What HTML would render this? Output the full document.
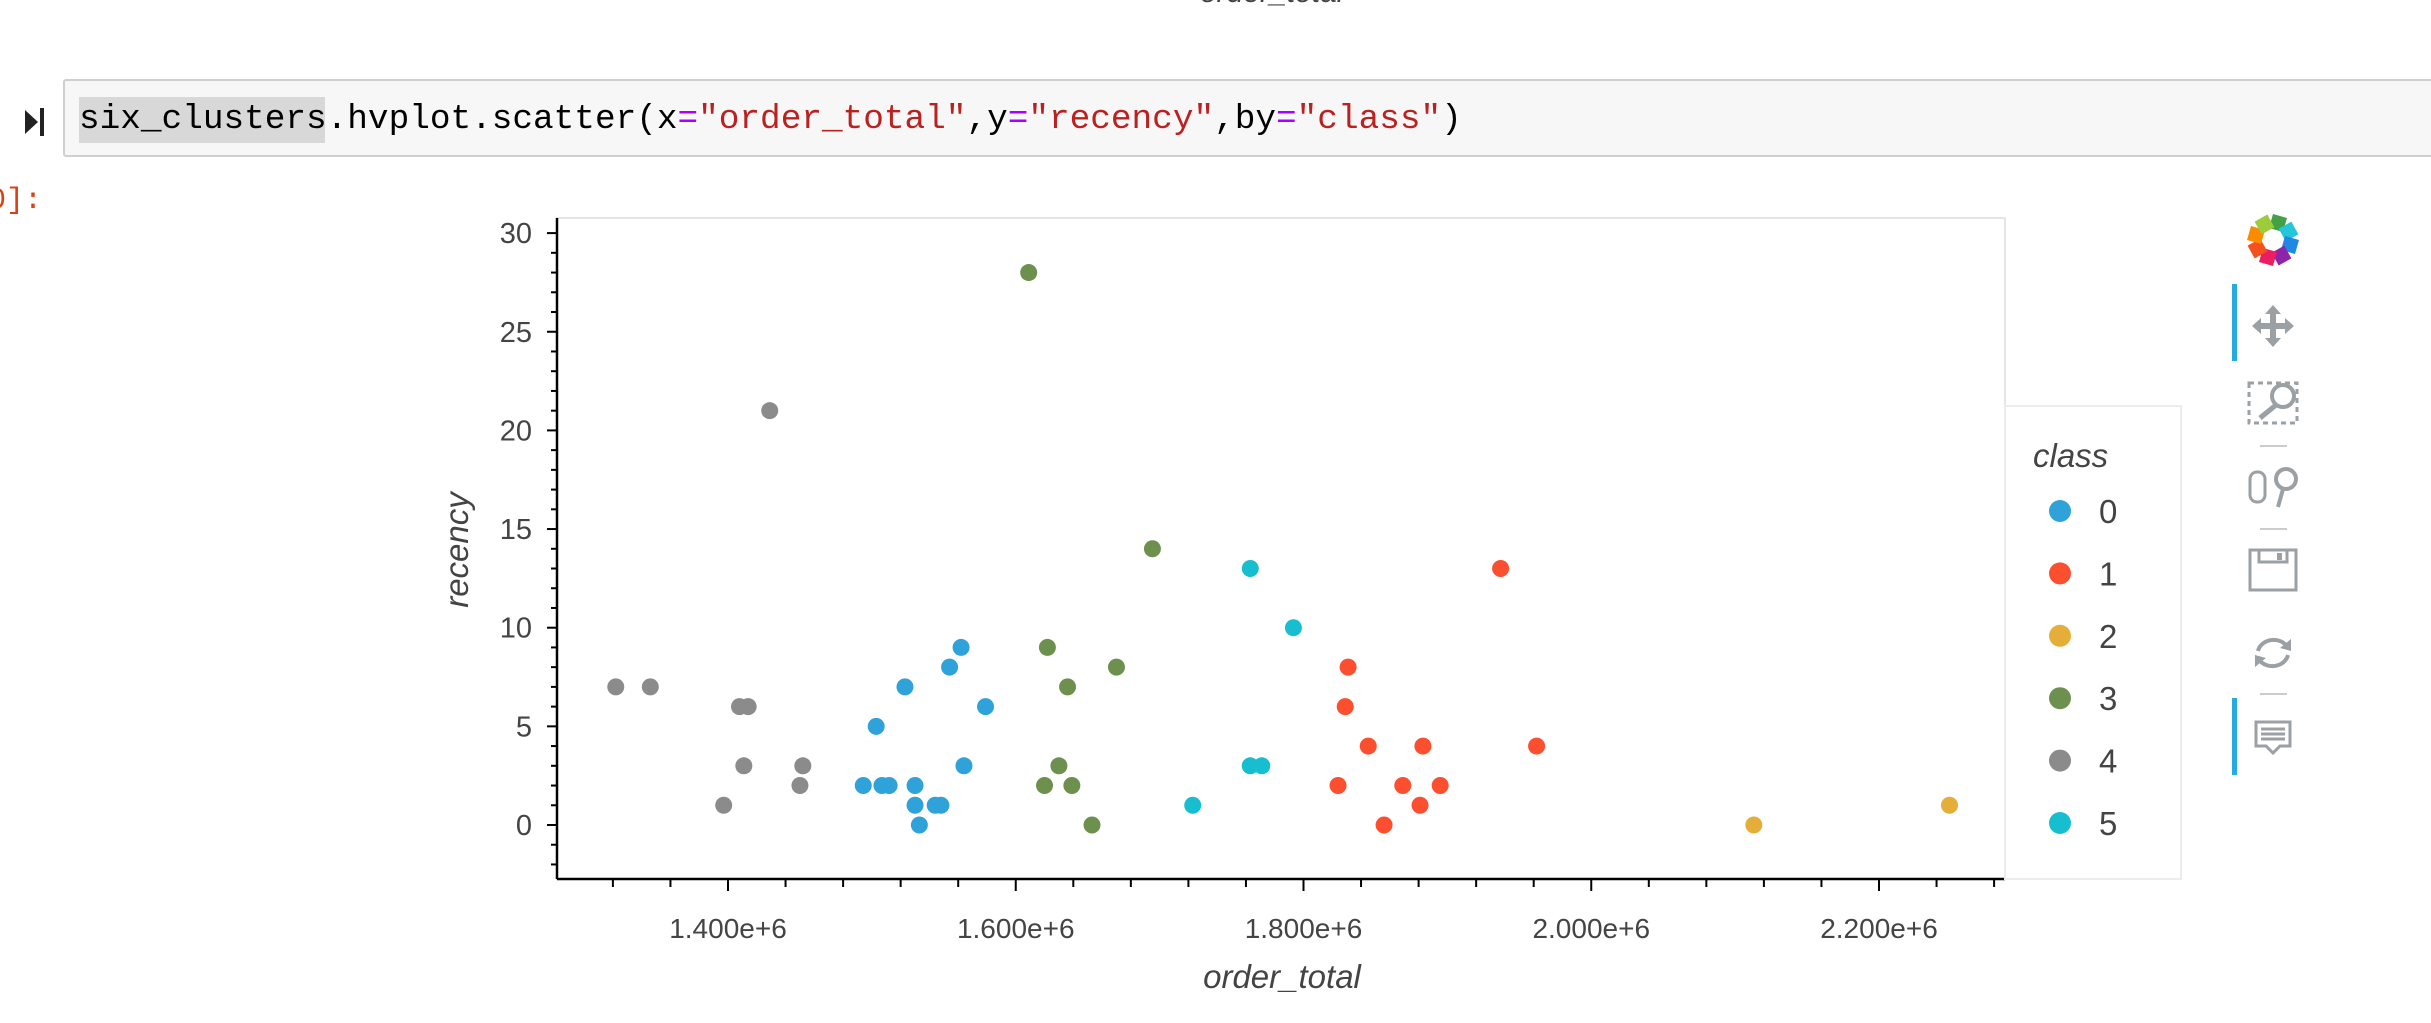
<!DOCTYPE html>
<html><head><meta charset="utf-8"><style>
body{margin:0;width:2431px;height:1023px;background:#fff;overflow:hidden;position:relative;font-family:"Liberation Sans",sans-serif}
.abs{position:absolute}
</style></head><body>
<div class="abs" style="left:1200px;top:-24px;font-size:30px;font-style:italic;color:#444">order_total</div>
<div class="abs" style="left:25px;top:110px;width:0;height:0;border-top:12px solid transparent;border-bottom:12px solid transparent;border-left:13px solid #222"></div>
<div class="abs" style="left:40px;top:108px;width:4px;height:28px;background:#222"></div>
<div class="abs" style="left:63px;top:79px;width:2380px;height:78px;background:#f7f7f7;border:2px solid #cfcfcf;border-radius:3px;box-sizing:border-box"></div>
<div class="abs" style="left:79px;top:97px;width:246px;height:46px;background:#d8d8d8"></div>
<div class="abs" style="left:79px;top:100px;font-family:'Liberation Mono',monospace;font-size:34.4px;line-height:40px;color:#000;white-space:pre">six_clusters.hvplot.scatter(x<span style="color:#a0f">=</span><span style="color:#ba2121">"order_total"</span>,y<span style="color:#a0f">=</span><span style="color:#ba2121">"recency"</span>,by<span style="color:#a0f">=</span><span style="color:#ba2121">"class"</span>)</div>
<div class="abs" style="left:-12px;top:184px;font-family:'Liberation Mono',monospace;font-size:30px;color:#d84315">0]:</div>

<svg class="abs" style="left:0;top:0" width="2431" height="1023">
<g id="g"></g>
</svg>
<script>
const classes=["0","1","2","3","4","5"];
const colors=["#30a2da","#fc4f30","#e5ae38","#6d904f","#8b8b8b","#17becf"];
const xVals=[
[1494e3,1507e3,1512e3,1503e3,1523e3,1554e3,1562e3,1579e3,1564e3,1530e3,1530e3,1533e3,1544e3,1548e3],
[1824e3,1829e3,1831e3,1845e3,1856e3,1869e3,1881e3,1883e3,1895e3,1937e3,1962e3],
[2113e3,2249e3],
[1609e3,1622e3,1620e3,1630e3,1636e3,1639e3,1653e3,1670e3,1695e3],
[1322e3,1346e3,1408e3,1414e3,1429e3,1411e3,1452e3,1450e3,1397e3],
[1763e3,1793e3,1763e3,1771e3,1723e3]];
const yVals=[
[2,2,2,5,7,8,9,6,3,2,1,0,1,1],
[2,6,8,4,0,2,1,4,2,13,4],
[0,1],
[28,9,2,3,7,2,0,8,14],
[7,7,6,6,21,3,3,2,1],
[13,10,3,3,1]];
const xTicks=[1.4e6,1.6e6,1.8e6,2.0e6,2.2e6];
const xTickLabels=["1.400e+6","1.600e+6","1.800e+6","2.000e+6","2.200e+6"];
const yTicks=[0,5,10,15,20,25,30];
const yTickLabels=["0","5","10","15","20","25","30"];

const L=557,R=2005,T=218,B=879;
const X=v=>728+(v-1.4e6)/200000*287.75;
const Y=v=>825-v*19.73;
const NS="http://www.w3.org/2000/svg";
const g=document.getElementById('g');
function el(t,a,txt,p){const e=document.createElementNS(NS,t);for(const k in a)e.setAttribute(k,a[k]);if(txt!=null)e.textContent=txt;(p||g).appendChild(e);return e;}
let e;
e=el('rect',{x:L,y:T,width:R-L,height:B-T,fill:'#fff',stroke:'#e5e5e5','stroke-width':2});


e=el('line',{x1:L,y1:T,x2:L,y2:B,stroke:'#000','stroke-width':2.5});


e=el('line',{x1:L,y1:B,x2:R,y2:B,stroke:'#000','stroke-width':2.5});


for(let v=-2;v<=30;v++){const maj=v%5===0;
e=el('line',{x1:L-(maj?10:6),y1:Y(v),x2:L,y2:Y(v),stroke:'#000','stroke-width':2});

}
yTicks.forEach((v,i)=>{e=el('text',{x:532,y:Y(v)+10,'text-anchor':'end','font-size':29,fill:'#444'},yTickLabels[i]);

});
for(let v=1.32e6;v<=2.28e6+1;v+=4e4){const maj=Math.abs((v/2e5)-Math.round(v/2e5))<1e-6;
e=el('line',{x1:X(v),y1:B,x2:X(v),y2:B+(maj?12:8),stroke:'#000','stroke-width':2});

}
xTicks.forEach((v,i)=>{e=el('text',{x:X(v),y:938,'text-anchor':'middle','font-size':28,fill:'#444'},xTickLabels[i]);

});
e=el('text',{x:1282,y:988,'text-anchor':'middle','font-size':33,'font-style':'italic',fill:'#444'},'order_total');


e=el('text',{x:468,y:550,'text-anchor':'middle','font-size':33,'font-style':'italic',fill:'#444',transform:'rotate(-90 468 550)'},'recency');


xVals.forEach((xs,c)=>xs.forEach((xv,i)=>{
e=el('circle',{cx:X(xv),cy:Y(yVals[c][i]),r:8.5,fill:colors[c]});

}));
e=el('rect',{x:2005,y:406,width:176,height:473,fill:'#fff',stroke:'#ececec','stroke-width':2});


e=el('text',{x:2033,y:467,'font-size':33,'font-style':'italic',fill:'#444'},'class');


classes.forEach((c,i)=>{const yy=511+i*62.4;
e=el('circle',{cx:2060,cy:yy,r:11,fill:colors[i]});


e=el('text',{x:2099,y:yy+12,'font-size':33,fill:'#444'},c);

});
// toolbar
const tb=[['#43a047',0],['#26c6da',45],['#1e88e5',90],['#8e24aa',135],['#e91e63',180],['#f4511e',225],['#fb8c00',270],['#9ccc3c',315]];
tb.forEach(([col,a])=>{e=el('path',{d:'M2273 214 l14 4 -4 14 -14 -4z',fill:col,transform:`rotate(${a} 2273 240)`});

});
[[284,361],[698,775]].forEach(([a,b])=>{e=el('rect',{x:2232,y:a,width:5,height:b-a,fill:'#26aae1'});

});
[404,446,529,694].slice(1).forEach(y=>{e=el('line',{x1:2260,y1:y,x2:2287,y2:y,stroke:'#ccc','stroke-width':2});

});
function grp(cy,name){const q=el('g',{transform:`translate(2273 ${cy})`});return q;}
const gs='#9aa0a4';
let q=grp(326,'pan-tool');
el('path',{d:'M0 -21 l8 9 h-5 v9 h9 v-5 l9 8 -9 8 v-5 h-9 v9 h5 l-8 9 -8 -9 h5 v-9 h-9 v5 l-9 -8 9 -8 v5 h9 v-9 h-5z',fill:gs},null,q);
q=grp(403,'box-zoom-tool');
el('rect',{x:-24,y:-20,width:48,height:40,fill:'none',stroke:gs,'stroke-width':3,'stroke-dasharray':'5 4'},null,q);
el('circle',{cx:10,cy:-7,r:11,fill:'#fff',stroke:gs,'stroke-width':4},null,q);
el('line',{x1:3,y1:2,x2:-13,y2:15,stroke:gs,'stroke-width':5},null,q);
q=grp(487,'wheel-zoom-tool');
el('rect',{x:-23,y:-15,width:15,height:30,rx:7,fill:'none',stroke:gs,'stroke-width':3},null,q);
el('circle',{cx:13,cy:-8,r:10,fill:'none',stroke:gs,'stroke-width':4},null,q);
el('line',{x1:10,y1:2,x2:5,y2:20,stroke:gs,'stroke-width':4},null,q);
q=grp(570,'save-tool');
el('rect',{x:-23,y:-20,width:46,height:40,fill:'none',stroke:gs,'stroke-width':3},null,q);
el('rect',{x:-14,y:-20,width:28,height:12,fill:'none',stroke:gs,'stroke-width':3},null,q);
el('rect',{x:4,y:-17,width:5,height:7,fill:gs},null,q);
q=grp(653,'reset-tool');
el('path',{d:'M-15 -2 a16 14 0 0 1 28 -6 M15 2 a16 14 0 0 1 -28 6',fill:'none',stroke:gs,'stroke-width':4},null,q);
el('path',{d:'M18 -14 l0 12 -11 -3z M-18 14 l0 -12 11 3z',fill:gs},null,q);
q=grp(735,'hover-tool');
el('path',{d:'M-17 -13 h34 v24 h-10 l-7 7 -7 -7 h-10z M-12 -6 h24 M-12 -1 h24 M-12 4 h24',fill:'none',stroke:gs,'stroke-width':3},null,q);
</script>
</body></html>
